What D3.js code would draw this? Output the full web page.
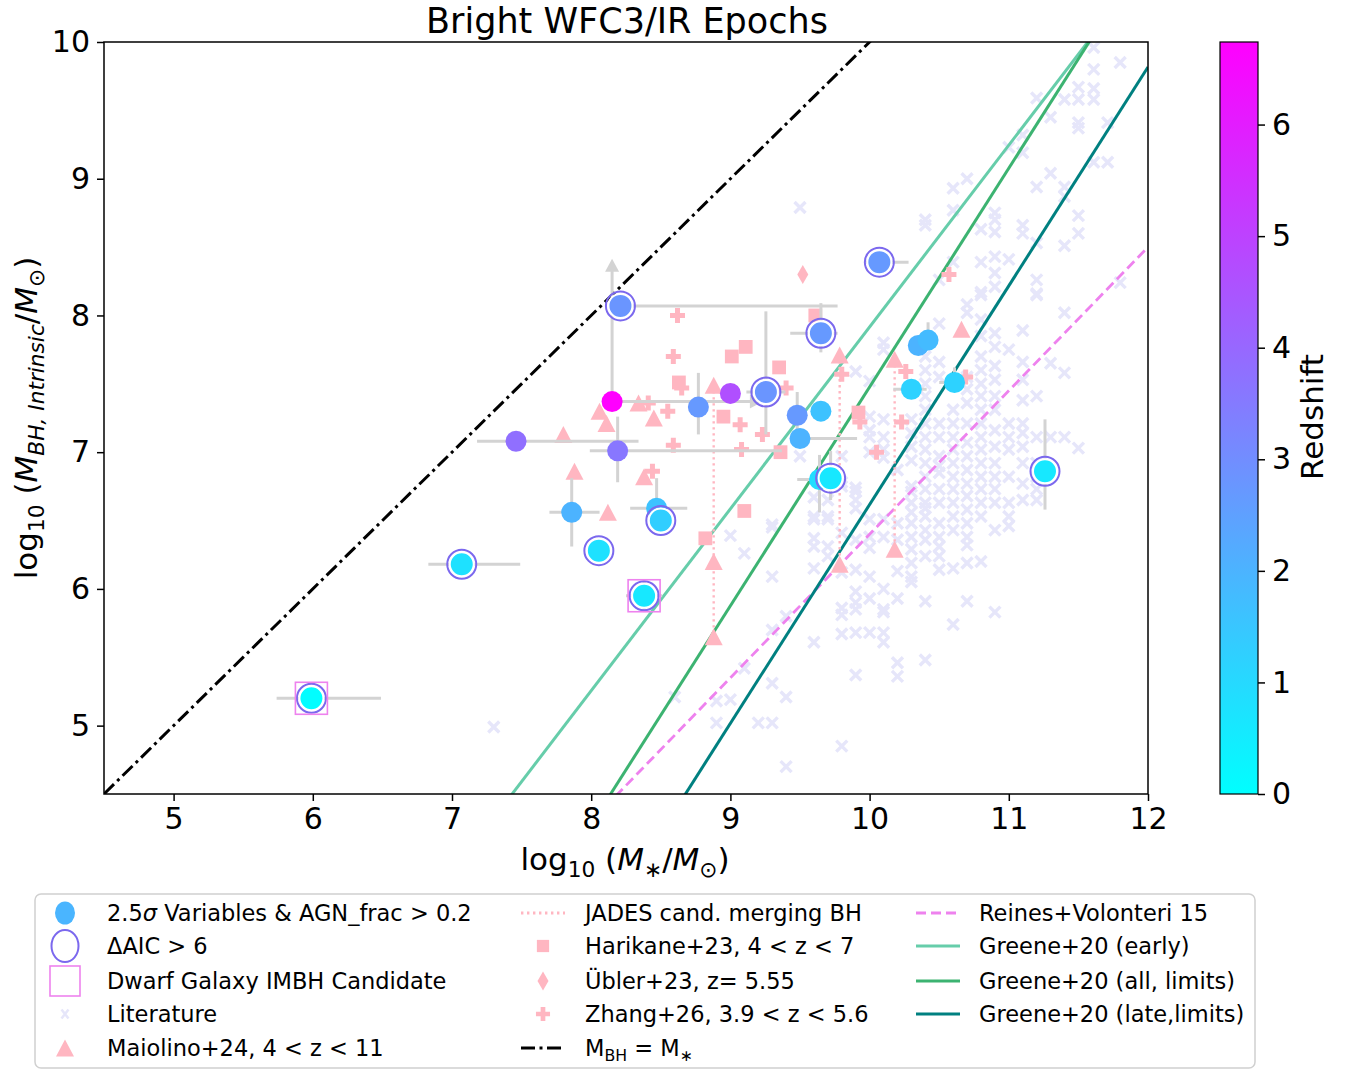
<!DOCTYPE html>
<html>
<head>
<meta charset="utf-8">
<script src="https://cdn.jsdelivr.net/npm/d3@7"></script>
<style>
  body { margin: 0; background: #fff; }
  text { font-family: "DejaVu Sans", sans-serif; }
</style>
</head>
<body>
<div id="chart"></div>
<script>
// ---- our sources: log M*, log MBH, redshift, error bars, flags
var srcX  = [5.99, 7.07, 8.055, 8.38, 7.86, 8.47, 8.50, 7.46, 8.19, 8.15, 8.21, 8.77, 9.00, 9.255, 9.48, 9.65, 9.50, 9.65, 10.07, 10.35, 10.42, 10.30, 10.61, 11.26, 9.64, 9.72];
var srcY  = [5.20, 6.18, 6.28, 5.95, 6.56, 6.59, 6.50, 7.08, 7.01, 7.37, 8.07, 7.33, 7.43, 7.44, 7.27, 7.30, 7.10, 7.87, 8.39, 7.78, 7.82, 7.46, 7.51, 6.86, 6.80, 6.81];
var srcZ  = [0.05, 0.8, 0.8, 0.6, 2.0, 1.6, 1.3, 3.8, 3.6, 6.74, 2.8, 2.7, 4.65, 2.8, 2.7, 1.6, 2.0, 2.7, 2.7, 2.0, 1.8, 1.2, 1.2, 0.6, 0.9, 0.6];
var srcXlo = [0.25, 0.24, 0, 0.13, 0.16, 0.19, 0, 0.28, 0.20, 0, 0, 0, 0, 0.14, 0, 0, 0, 0.22, 0.10, 0, 0, 0.13, 0.11, 0, 0.16, 0];
var srcXhi = [0.50, 0.42, 0, 0.13, 0.20, 0.22, 0, 0.88, 1.18, 0, 1.56, 0, 0, 0.14, 0, 0, 0.41, 0.12, 0.21, 0, 0, 0.11, 0, 0, 0, 0];
var srcYlo = [0, 0, 0, 0.12, 0.25, 0.15, 0, 0, 0.23, 0, 0, 0.20, 0, 0.31, 0.17, 0, 0, 0.14, 0, 0, 0, 0, 0, 0.28, 0.24, 0.16];
var srcYhi = [0, 0, 0, 0.12, 0.25, 0.22, 0, 0, 0.25, 0, 0, 0.25, 0, 0.59, 0.17, 0, 0, 0.22, 0, 0, 0.13, 0, 0.11, 0.38, 0.18, 0.20];
var srcAIC  = [1, 1, 1, 1, 0, 0, 1, 0, 0, 0, 1, 0, 0, 1, 0, 0, 0, 1, 1, 0, 0, 0, 0, 1, 0, 1];
var srcIMBH = [1, 0, 0, 1, 0, 0, 0, 0, 0, 0, 0, 0, 0, 0, 0, 0, 0, 0, 0, 0, 0, 0, 0, 0, 0, 0];
// lower limits (arrows) for the z~6.7 source: [index, x end, y end]
var limitArrows = [[9, 9.19, 7.37], [9, 8.15, 8.37]];

// ---- literature comparison samples
var maiolinoX = [8.06, 8.11, 8.34, 8.45, 7.80, 7.88, 8.12, 8.38, 8.88, 8.88, 8.88, 9.785, 9.785, 10.18, 10.18, 10.66];
var maiolinoY = [7.30, 7.21, 7.36, 7.25, 7.13, 6.86, 6.56, 6.82, 7.49, 6.20, 5.65, 7.71, 6.18, 7.68, 6.29, 7.90];
var mergeX    = [8.88, 9.785, 10.18];
var mergeYtop = [7.49, 7.71, 7.68];
var mergeYbot = [5.65, 6.18, 6.29];
var harikaneX = [9.61, 9.01, 9.11, 9.35, 8.63, 8.95, 9.92, 9.36, 9.10, 8.82];
var harikaneY = [8.00, 7.70, 7.77, 7.62, 7.51, 7.26, 7.29, 7.00, 6.57, 6.37];
var ublerX = [9.52];
var ublerY = [8.30];
var zhangX = [8.62, 8.59, 8.65, 8.55, 8.59, 8.44, 8.41, 9.07, 9.23, 9.08, 9.40, 9.80, 9.93, 10.23, 10.05, 10.26, 10.57, 10.69];
var zhangY = [8.00, 7.70, 7.47, 7.30, 7.05, 6.86, 7.36, 7.20, 7.13, 7.02, 7.47, 7.57, 7.22, 7.22, 7.00, 7.59, 8.30, 7.55];

var literature = [
  [10.0,7.26],[10.0,7.16],[10.1,7.80],[10.1,7.75],[10.1,7.24],[10.1,7.11],[10.1,7.02],
  [10.3,7.24],[10.3,7.14],[10.3,7.04],[10.3,6.94],[10.3,6.75],[10.3,6.63],[10.3,6.48],[10.3,6.38],
  [10.4,7.70],[10.4,7.60],[10.4,7.50],[10.4,7.41],[10.4,7.31],[10.4,7.21],[10.4,7.11],[10.4,7.02],[10.4,6.92],[10.4,6.82],[10.4,6.63],[10.4,6.53],[10.4,6.43],
  [10.5,7.94],[10.5,7.66],[10.5,7.55],[10.5,7.21],[10.5,7.11],[10.5,6.90],[10.5,6.73],[10.5,6.63],[10.5,6.48],[10.5,6.38],
  [10.6,7.31],[10.6,7.21],[10.6,7.11],[10.6,7.02],[10.6,6.92],[10.6,6.82],[10.6,6.73],[10.6,6.63],[10.6,6.53],[10.6,6.43],
  [10.7,8.08],[10.7,8.02],[10.7,7.55],[10.7,7.46],[10.7,7.36],[10.7,7.21],[10.7,7.07],[10.7,6.97],[10.7,6.87],[10.7,6.77],[10.7,6.68],[10.7,6.58],[10.7,6.48],[10.7,6.38],
  [10.8,8.15],[10.8,7.97],[10.8,7.85],[10.8,7.70],[10.8,7.60],[10.8,7.50],[10.8,7.41],[10.8,7.31],[10.8,7.21],[10.8,7.11],[10.8,7.02],[10.8,6.92],[10.8,6.82],[10.8,6.73],[10.8,6.63],[10.8,6.53],
  [10.9,7.87],[10.9,7.77],[10.9,7.63],[10.9,7.53],[10.9,7.41],[10.9,7.31],[10.9,7.16],[10.9,7.04],[10.9,6.92],[10.9,6.82],[10.9,6.73],[10.9,6.63],[10.9,6.43],
  [11.0,7.75],[11.0,7.21],[11.0,7.11],[11.0,7.02],[11.0,6.82],[11.0,6.63],[11.0,6.53],[11.0,6.46],
  [11.1,7.89],[11.1,7.66],[11.1,7.53],[11.1,7.38],[11.1,7.21],[11.1,7.14],[11.1,7.04],[11.1,6.92],[11.1,6.77],[11.1,6.65],
  [11.2,8.15],[11.2,7.41],[11.2,7.11],[11.2,6.92],[11.2,6.82],[11.2,6.73],[11.2,6.65],
  [11.3,7.65],[11.3,7.11],[11.4,8.02],[11.4,7.58],[11.4,7.11],[11.5,7.03],
  [11.61,9.96],[11.80,9.85],[11.61,9.80],[11.50,9.67],[11.61,9.66],[11.20,9.59],[11.40,9.58],[11.50,9.58],[11.61,9.58],
  [11.30,9.45],[11.50,9.41],[11.50,9.37],[11.71,9.41],[11.10,9.32],[11.10,9.19],[11.00,9.23],[11.61,9.12],[11.71,9.12],
  [11.30,9.04],[11.20,8.94],[11.40,8.94],[10.70,9.00],[10.60,8.93],[11.50,8.73],[11.40,8.87],[10.90,8.75],[10.90,8.70],
  [11.10,8.66],[10.90,8.61],[10.80,8.63],[11.10,8.60],[11.50,8.60],[10.40,8.70],[10.40,8.66],[10.60,8.77],[11.20,8.53],
  [11.40,8.51],[10.90,8.43],[11.00,8.41],[10.80,8.39],[10.60,8.39],[10.50,8.26],[10.90,8.31],[10.90,8.21],[11.20,8.26],
  [11.80,8.24],[10.80,8.17],[11.20,8.16],
  [9.50,8.79],[9.90,7.59],[10.0,7.52],
  [10.0,7.11],[9.5,6.97],[9.8,6.97],[9.6,6.67],[9.6,6.53],[9.7,6.65],[9.8,6.75],[9.9,6.65],[9.9,6.74],[9.3,6.47],
  [9.7,6.53],[9.8,6.41],[9.9,6.36],[10.0,6.51],[10.0,6.38],[10.0,7.00],
  [9.0,6.39],[9.1,6.26],[9.3,6.09],[9.3,6.45],[9.6,6.51],[9.6,6.37],[9.7,6.51],[9.7,6.31],[9.6,6.15],[9.8,6.78],
  [9.9,6.71],[9.9,6.59],[9.8,5.81],[10.0,6.09],[9.9,5.90],[9.9,5.68],[10.0,5.68],[10.1,5.83],[10.1,5.68],[10.1,5.61],
  [9.9,5.37],[10.2,5.46],[10.2,5.36],[10.4,5.48],[10.3,6.09],[10.3,6.19],[10.2,6.13],[10.4,5.91],[10.5,6.14],[10.5,6.24],
  [10.4,6.36],[10.2,6.36],[10.1,6.38],[10.0,6.30],[10.2,6.48],[10.1,6.51],[10.3,6.56],[10.4,6.59],[10.4,6.73],[10.3,6.71],
  [10.2,6.87],[10.1,6.96],[10.5,6.85],[10.5,6.97],[9.8,6.12],[9.7,6.24],[9.4,5.21],[9.3,5.31],[9.0,5.19],[8.9,5.18],
  [8.6,5.21],[8.9,5.02],[9.2,5.02],[9.3,5.02],
  [9.6,6.31],[9.9,6.14],[9.9,5.98],[10.0,5.93],[9.8,5.86],[9.9,5.85],[10.1,6.00],[10.1,5.85],[10.2,5.93],[10.3,6.05],
  [10.3,6.29],[10.4,6.24],[10.5,6.31],[10.6,6.15],[10.7,6.32],[10.7,6.19],[10.7,5.91],[10.8,6.20],[10.9,5.83],[10.6,5.74],
  [9.8,5.67],[9.6,5.61],[9.4,5.80],[9.3,5.70],[9.1,5.42],[9.8,4.85],[9.4,4.70],[7.3,4.99]
];

// ---- scaling relations: [intercept, slope, pivot]
var greeneEarly = [8.55, 1.33, 10.477];
var greeneAll   = [8.24, 1.60, 10.477];
var greeneLate  = [7.38, 1.60, 10.477];
var reines15    = [7.45, 1.05, 11.0];

var xTicks = [5, 6, 7, 8, 9, 10, 11, 12];
var yTicks = [5, 6, 7, 8, 9, 10];
var zTicks = [0, 1, 2, 3, 4, 5, 6];
var zMax = 6.74;

// ---- layout
var W = 1348, H = 1072;
var pL = 104, pR = 1148, pT = 42, pB = 794;
var pink = "#ffb6c1", grey = "#d3d3d3", lav = "#e6e6fa";

var svg = d3.select("#chart").append("svg").attr("width", W).attr("height", H);

var x = d3.scaleLinear().domain([4.5, 12]).range([pL, pR]);
var y = d3.scaleLinear().domain([4.5, 10]).range([pB, pT]);
var cool = d3.interpolateRgb("#00ffff", "#ff00ff");
var zColor = function(z) { return cool(Math.min(z / zMax, 1)); };

svg.append("clipPath").attr("id", "plotclip")
  .append("rect").attr("x", pL).attr("y", pT).attr("width", pR - pL).attr("height", pB - pT);

var plot = svg.append("g").attr("clip-path", "url(#plotclip)");

// literature crosses
plot.append("g").selectAll("path").data(literature).enter().append("path")
  .attr("transform", d => "translate(" + x(d[0]) + "," + y(d[1]) + ")")
  .attr("d", "M-5.5,-5.5L5.5,5.5M-5.5,5.5L5.5,-5.5")
  .attr("stroke", lav).attr("stroke-width", 3.4).attr("fill", "none");

// relations
function relLine(p, color, dash, w) {
  var xs = [4.5, 12];
  plot.append("path")
    .datum(xs)
    .attr("d", d3.line().x(d => x(d)).y(d => y(p[0] + p[1] * (d - p[2]))))
    .attr("stroke", color).attr("stroke-width", w).attr("fill", "none")
    .attr("stroke-dasharray", dash);
}
relLine([4.5, 1, 4.5], "#000", "14,4.5,3,4.5", 3);
relLine(reines15, "#ee82ee", "10,5", 2.8);
relLine(greeneEarly, "#66cdaa", null, 3);
relLine(greeneAll, "#3cb371", null, 3);
relLine(greeneLate, "#008080", null, 3);

// JADES merging dotted lines
plot.append("g").selectAll("line").data(mergeX).enter().append("line")
  .attr("x1", d => x(d)).attr("x2", d => x(d))
  .attr("y1", (d, i) => y(mergeYtop[i])).attr("y2", (d, i) => y(mergeYbot[i]))
  .attr("stroke", pink).attr("stroke-width", 2.4).attr("stroke-dasharray", "2.4,3.6");

var triPath = "M0,-8.5L9,8.5L-9,8.5Z";
plot.append("g").selectAll("path").data(maiolinoX).enter().append("path")
  .attr("transform", (d, i) => "translate(" + x(d) + "," + y(maiolinoY[i]) + ")")
  .attr("d", triPath).attr("fill", pink);

plot.append("g").selectAll("path").data(harikaneX).enter().append("path")
  .attr("transform", (d, i) => "translate(" + x(d) + "," + y(harikaneY[i]) + ")")
  .attr("d", d3.symbol(d3.symbolSquare, 190)).attr("fill", pink);

plot.append("g").selectAll("path").data(ublerX).enter().append("path")
  .attr("transform", (d, i) => "translate(" + x(d) + "," + y(ublerY[i]) + ")")
  .attr("d", "M0,-9.5L5.5,0L0,9.5L-5.5,0Z").attr("fill", pink);

plot.append("g").selectAll("path").data(zhangX).enter().append("path")
  .attr("transform", (d, i) => "translate(" + x(d) + "," + y(zhangY[i]) + ")")
  .attr("d", d3.symbol(d3.symbolCross, 125)).attr("fill", pink);

// error bars of our sources
var eb = plot.append("g").attr("stroke", grey).attr("stroke-width", 3);
srcX.forEach(function(sx, i) {
  if (srcXlo[i] || srcXhi[i])
    eb.append("line").attr("x1", x(sx - srcXlo[i])).attr("x2", x(sx + srcXhi[i]))
      .attr("y1", y(srcY[i])).attr("y2", y(srcY[i]));
  if (srcYlo[i] || srcYhi[i])
    eb.append("line").attr("x1", x(sx)).attr("x2", x(sx))
      .attr("y1", y(srcY[i] - srcYlo[i])).attr("y2", y(srcY[i] + srcYhi[i]));
});
limitArrows.forEach(function(a) {
  var i = a[0], x0 = x(srcX[i]), y0 = y(srcY[i]), x1 = x(a[1]), y1 = y(a[2]);
  eb.append("line").attr("x1", x0).attr("y1", y0).attr("x2", x1).attr("y2", y1);
  var ang = Math.atan2(y1 - y0, x1 - x0) * 180 / Math.PI;
  plot.append("path").attr("d", "M6,0L-7,-7L-7,7Z").attr("fill", grey)
    .attr("transform", "translate(" + x1 + "," + y1 + ") rotate(" + ang + ")");
});

// our sources
var pts = plot.append("g");
srcX.forEach(function(sx, i) {
  pts.append("circle").attr("cx", x(sx)).attr("cy", y(srcY[i]))
    .attr("r", srcAIC[i] ? 12 : 10.5)
    .attr("fill", zColor(srcZ[i]))
    .attr("stroke", srcAIC[i] ? "#fff" : "none").attr("stroke-width", 2);
  if (srcAIC[i])
    pts.append("circle").attr("cx", x(sx)).attr("cy", y(srcY[i])).attr("r", 14.5)
      .attr("fill", "none").attr("stroke", "#7b68ee").attr("stroke-width", 2);
  if (srcIMBH[i])
    pts.append("rect").attr("x", x(sx) - 16).attr("y", y(srcY[i]) - 16)
      .attr("width", 32).attr("height", 32)
      .attr("fill", "none").attr("stroke", "#ee82ee").attr("stroke-width", 1.6);
});

// axes
var fs = 30;
var xAxis = svg.append("g").attr("transform", "translate(0," + pB + ")")
  .call(d3.axisBottom(x).tickValues(xTicks).tickSize(7).tickPadding(7).tickFormat(d3.format("d")));
var yAxis = svg.append("g").attr("transform", "translate(" + pL + ",0)")
  .call(d3.axisLeft(y).tickValues(yTicks).tickSize(7).tickPadding(7).tickFormat(d3.format("d")));
[xAxis, yAxis].forEach(function(a) {
  a.select(".domain").remove();
  a.selectAll(".tick line").attr("stroke", "#000").attr("stroke-width", 1.5);
  a.selectAll(".tick text").attr("font-size", fs).attr("fill", "#000").style("font-family", "DejaVu Sans");
});
svg.append("rect").attr("x", pL).attr("y", pT).attr("width", pR - pL).attr("height", pB - pT)
  .attr("fill", "none").attr("stroke", "#000").attr("stroke-width", 1.5);

// rich text helper (italics and subscripts)
function rich(t, parts, size) {
  var down = false;
  parts.forEach(function(p) {
    var st = p[1] || "";
    var sp = t.append("tspan").text(p[0]);
    if (st.indexOf("i") >= 0) sp.style("font-style", "italic");
    if (st.indexOf("s") >= 0) {
      sp.attr("font-size", size * 0.7);
      if (!down) { sp.attr("dy", size * 0.24); down = true; }
    } else if (down) { sp.attr("dy", -size * 0.24); down = false; }
  });
}

svg.append("text").attr("x", 627).attr("y", 33).attr("text-anchor", "middle")
  .attr("font-size", 35).text("Bright WFC3/IR Epochs");

var lf = 31;
rich(svg.append("text").attr("x", 625).attr("y", 870).attr("text-anchor", "middle").attr("font-size", lf),
  [["log"], ["10", "s"], [" ("], ["M", "i"], ["∗", "s"], ["/"], ["M", "i"], ["⊙", "s"], [")"]], lf);
rich(svg.append("text").attr("transform", "translate(37,418) rotate(-90)").attr("text-anchor", "middle").attr("font-size", lf),
  [["log"], ["10", "s"], [" ("], ["M", "i"], ["BH, Intrinsic", "si"], ["/"], ["M", "i"], ["⊙", "s"], [")"]], lf);

// colorbar
var cbL = 1220, cbR = 1258;
var z = d3.scaleLinear().domain([0, zMax]).range([pB, pT]);
var grad = svg.append("defs").append("linearGradient").attr("id", "cbgrad")
  .attr("x1", 0).attr("y1", 1).attr("x2", 0).attr("y2", 0);
grad.append("stop").attr("offset", 0).attr("stop-color", zColor(0));
grad.append("stop").attr("offset", 1).attr("stop-color", zColor(zMax));
svg.append("rect").attr("x", cbL).attr("y", pT).attr("width", cbR - cbL).attr("height", pB - pT)
  .attr("fill", "url(#cbgrad)").attr("stroke", "#000").attr("stroke-width", 1.2);
var zAxis = svg.append("g").attr("transform", "translate(" + cbR + ",0)")
  .call(d3.axisRight(z).tickValues(zTicks).tickSize(7).tickPadding(7).tickFormat(d3.format("d")));
zAxis.select(".domain").remove();
zAxis.selectAll(".tick line").attr("stroke", "#000").attr("stroke-width", 1.5);
zAxis.selectAll(".tick text").attr("font-size", fs).attr("fill", "#000").style("font-family", "DejaVu Sans");
svg.append("text").attr("transform", "translate(1323,417) rotate(-90)").attr("text-anchor", "middle")
  .attr("font-size", lf).text("Redshift");

// legend
var lg = svg.append("g");
lg.append("rect").attr("x", 35).attr("y", 894).attr("width", 1220).attr("height", 174).attr("rx", 6)
  .attr("fill", "#fff").attr("stroke", "#d0d0d0").attr("stroke-width", 1.5);
var rowY = [913, 946, 981, 1014, 1048];
var colM = [65, 543, 938], colT = [107, 585, 979];
var legFs = 22.5;
var legendItems = [
  [0, 0, "dot", [["2.5"], ["σ", "i"], [" Variables & AGN_frac > 0.2"]]],
  [0, 1, "ring", [["ΔAIC > 6"]]],
  [0, 2, "box", [["Dwarf Galaxy IMBH Candidate"]]],
  [0, 3, "cross", [["Literature"]]],
  [0, 4, "tri", [["Maiolino+24, 4 < z < 11"]]],
  [1, 0, "dotted", [["JADES cand. merging BH"]]],
  [1, 1, "square", [["Harikane+23, 4 < z < 7"]]],
  [1, 2, "diamond", [["Übler+23, z= 5.55"]]],
  [1, 3, "plus", [["Zhang+26, 3.9 < z < 5.6"]]],
  [1, 4, "dashdot", [["M"], ["BH", "s"], [" = M"], ["∗", "s"]]],
  [2, 0, "dashed", [["Reines+Volonteri 15"]]],
  [2, 1, "early", [["Greene+20 (early)"]]],
  [2, 2, "all", [["Greene+20 (all, limits)"]]],
  [2, 3, "late", [["Greene+20 (late,limits)"]]]
];
var lineStyles = {
  dotted: [pink, "2.4,3.6"], dashdot: ["#000", "14,4.5,3,4.5"], dashed: ["#ee82ee", "10,5"],
  early: ["#66cdaa", null], all: ["#3cb371", null], late: ["#008080", null]
};
legendItems.forEach(function(it) {
  var mx = colM[it[0]], my = rowY[it[1]], kind = it[2];
  var g = lg.append("g").attr("transform", "translate(" + mx + "," + my + ")");
  if (kind === "dot") g.append("ellipse").attr("rx", 10).attr("ry", 11.5).attr("fill", zColor(1.95));
  else if (kind === "ring") g.append("ellipse").attr("rx", 13.5).attr("ry", 16).attr("fill", "none").attr("stroke", "#7b68ee").attr("stroke-width", 2);
  else if (kind === "box") g.append("rect").attr("x", -15).attr("y", -15).attr("width", 30).attr("height", 30).attr("fill", "none").attr("stroke", "#ee82ee").attr("stroke-width", 1.6);
  else if (kind === "cross") g.append("path").attr("d", "M-3.5,-4.5L3.5,4.5M-3.5,4.5L3.5,-4.5").attr("stroke", lav).attr("stroke-width", 2.5);
  else if (kind === "tri") g.append("path").attr("d", triPath).attr("fill", pink);
  else if (kind === "square") g.append("path").attr("d", d3.symbol(d3.symbolSquare, 150)).attr("fill", pink);
  else if (kind === "diamond") g.append("path").attr("d", "M0,-9.5L5.5,0L0,9.5L-5.5,0Z").attr("fill", pink);
  else if (kind === "plus") g.append("path").attr("d", d3.symbol(d3.symbolCross, 110)).attr("fill", pink);
  else {
    var s = lineStyles[kind];
    g.append("line").attr("x1", -22).attr("x2", 22).attr("stroke", s[0]).attr("stroke-width", 2.8)
      .attr("stroke-dasharray", s[1]);
  }
  rich(lg.append("text").attr("x", colT[it[0]]).attr("y", my + 8).attr("font-size", legFs), it[3], legFs);
});
</script>
</body>
</html>
